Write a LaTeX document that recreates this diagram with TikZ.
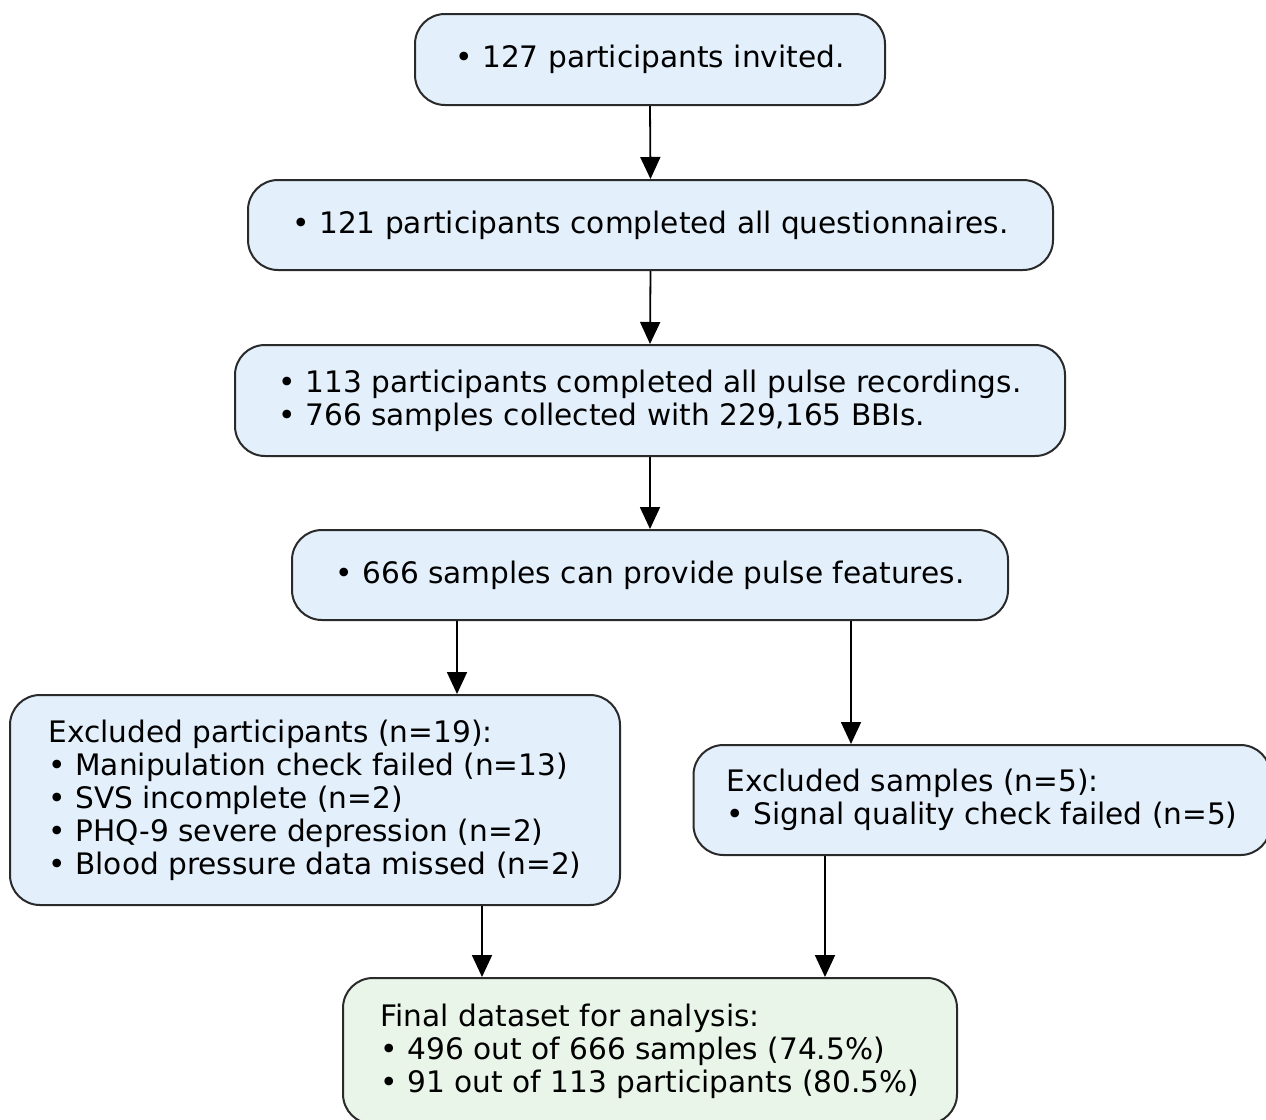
\documentclass[tikz,border=0pt]{standalone}
\usepackage{fontspec}
\setmainfont{DejaVu Sans}
\usetikzlibrary{arrows.meta}
\definecolor{boxblue}{HTML}{E3F0FB}
\definecolor{boxgreen}{HTML}{E8F5E8}
\definecolor{edgegray}{HTML}{2A2A2A}
\begin{document}
\begin{tikzpicture}[x=1pt,y=-1pt,
  box/.style={draw=edgegray, line width=2pt, fill=boxblue, rounded corners=30pt,
    align=left, inner sep=0pt, font=\fontsize{29.6}{33}\selectfont},
  arr/.style={draw=black, line width=1.8pt, -{Triangle[length=22pt,width=20pt]}}]
\useasboundingbox (0,0) rectangle (1266,1119);
\fill[white] (0,0) rectangle (1266,1119);
\node[box, minimum width=470pt, minimum height=91pt] (b1) at (650,59.5) {• 127 participants invited.};
\node[box, minimum width=805pt, minimum height=90pt] (b2) at (650.5,225) {• 121 participants completed all questionnaires.};
\node[box, minimum width=830pt, minimum height=111pt] (b3) at (650,400.5) {• 113 participants completed all pulse recordings.\\• 766 samples collected with 229,165 BBIs.};
\node[box, minimum width=716pt, minimum height=90pt] (b4) at (650,575) {• 666 samples can provide pulse features.};
\node[box, minimum width=610pt, minimum height=210pt] (l) at (315,800) {Excluded participants (n=19):\\• Manipulation check failed (n=13)\\• SVS incomplete (n=2)\\• PHQ-9 severe depression (n=2)\\• Blood pressure data missed (n=2)};
\node[box, minimum width=577pt, minimum height=110pt] (r) at (982,800) {Excluded samples (n=5):\\• Signal quality check failed (n=5)};
\node[box, fill=boxgreen, minimum width=614pt, minimum height=146pt] (f) at (650,1051) {Final dataset for analysis:\\• 496 out of 666 samples (74.5\%)\\• 91 out of 113 participants (80.5\%)};
\draw[arr] (b1.south) -- (b2.north);
\draw[arr] (b2.south) -- (b3.north);
\draw[arr] (b3.south) -- (b4.north);
\draw[arr] (b4.south -| 457,0) -- (l.north -| 457,0);
\draw[arr] (b4.south -| 851,0) -- (r.north -| 851,0);
\draw[arr] (l.south -| 482,0) -- (f.north -| 482,0);
\draw[arr] (r.south -| 825,0) -- (f.north -| 825,0);
\end{tikzpicture}
\end{document}
